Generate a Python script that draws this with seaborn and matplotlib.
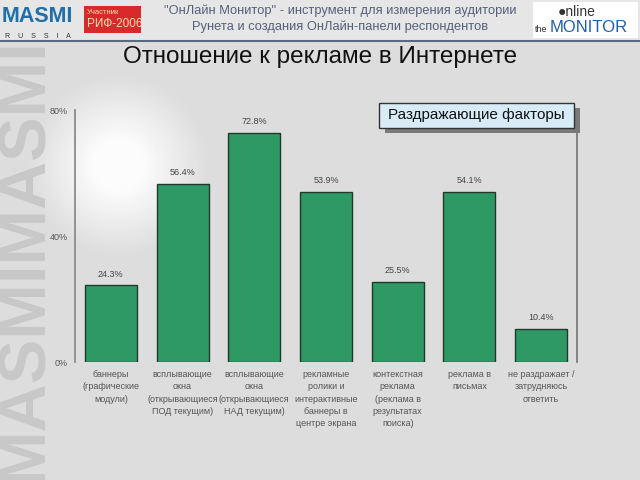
import numpy as np
import pandas as pd
import matplotlib
matplotlib.use("Agg")
import matplotlib.pyplot as plt
import seaborn as sns
from matplotlib.patches import Rectangle, FancyBboxPatch

categories = [
    "баннеры\n(графические\nмодули)",
    "всплывающие\nокна\n(открывающиеся\nПОД текущим)",
    "всплывающие\nокна\n(открывающиеся\nНАД текущим)",
    "рекламные\nролики и\nинтерактивные\nбаннеры в\nцентре экрана",
    "контекстная\nреклама\n(реклама в\nрезультатах\nпоиска)",
    "реклама в\nписьмах",
    "не раздражает /\nзатрудняюсь\nответить",
]
values = [24.3, 56.4, 72.8, 53.9, 25.5, 54.1, 10.4]
value_labels = ["24.3%", "56.4%", "72.8%", "53.9%", "25.5%", "54.1%", "10.4%"]
y_ticks = [0, 40, 80]
y_tick_labels = ["0%", "40%", "80%"]
title = "Отношение к рекламе в Интернете"
header = "\"ОнЛайн Монитор\" - инструмент для измерения аудитории\nРунета и создания ОнЛайн-панели респондентов"
box_text = "Раздражающие факторы"

sns.set_theme(style="white")
plt.rcParams['font.family'] = ['Liberation Sans', 'DejaVu Sans']

fig = plt.figure(figsize=(6.4, 4.8), dpi=100)
fig.patch.set_facecolor("#dcdcdc")

# background layer
bg = fig.add_axes([0, 0, 1, 1], zorder=0)
bg.set_xlim(0, 640); bg.set_ylim(480, 0); bg.axis("off")
yy, xx = np.mgrid[0:480, 0:640]
d = np.sqrt((xx - 118) ** 2 + (yy - 165) ** 2)
glow = np.clip(1 - (d - 25) / 65, 0, 1)
base = np.full((480, 640), 0.865)
img = base + glow * 0.12
img[:40, :] = 0.9
bg.imshow(img, cmap="gray", vmin=0, vmax=1, extent=(0, 640, 480, 0), aspect="auto", zorder=0)
bg.plot([0, 640], [41, 41], color="#5a6a80", lw=1.5, zorder=1)
bg.text(25, 482, "MASMIMASMI", rotation=90, fontsize=48, fontweight="bold",
        color="#c8c8c8", ha="center", va="bottom", zorder=1, family="Liberation Sans",
        clip_on=True)
# logos
bg.text(37, 17, "MASMI", fontsize=15.5, fontweight="bold", color="#1f6fa8",
        ha="center", va="center", zorder=2)
bg.text(38, 36, "R    U    S    S    I    A", fontsize=5, color="#333333", ha="center", va="center", zorder=2)
bg.add_patch(Rectangle((84, 6), 57, 27, facecolor="#d82a2a", edgecolor="none", zorder=2))
bg.text(87, 12, "Участник", fontsize=5.5, color="#ffe0b0", ha="left", va="center", zorder=3)
bg.text(87, 24, "РИФ-2006", fontsize=8.5, color="#ffe0b0", ha="left", va="center", zorder=3)
bg.add_patch(Rectangle((533, 2), 105, 36, facecolor="white", edgecolor="none", zorder=2))
bg.text(558, 12, "●nline", fontsize=10, color="#333333", ha="left", va="center", zorder=3)
bg.text(535, 30, "the", fontsize=6.5, color="#333333", ha="left", va="center", zorder=3)
bg.text(550, 28, "MONITOR", fontsize=12, color="#1f5fb0", ha="left", va="center", zorder=3)
bg.text(340, 19, header, fontsize=9.3, color="#55607a", ha="center", va="center",
        linespacing=1.35, zorder=2)
bg.text(320, 57, title, fontsize=17.5, color="#111111", ha="center", va="center", zorder=2)

# chart
ax = fig.add_axes([75 / 640, 1 - 362 / 480, (577 - 75) / 640, (362 - 110) / 480], zorder=2)
ax.patch.set_alpha(0)
df = pd.DataFrame({"cat": categories, "val": values})
sns.barplot(data=df, x="cat", y="val", ax=ax, color="#2f9966", saturation=1,
            width=0.725, edgecolor="#1d3b29", linewidth=1.0)
ax.set_xlim(-0.5, 6.5)
ax.set_ylim(0, 80)
ax.set_yticks(y_ticks)
ax.set_yticklabels(y_tick_labels, fontsize=6.5, color="#555555")
ax.set_xticks(range(len(categories)))
ax.set_xticklabels(categories, fontsize=6.5, color="#555555", linespacing=1.45, va="top")
ax.tick_params(axis="x", length=0, pad=6)
ax.tick_params(axis="y", length=0, pad=5)
ax.set_xlabel(""); ax.set_ylabel("")
for s in ["top", "bottom"]:
    ax.spines[s].set_visible(False)
ax.spines["left"].set_color("#888888")
ax.spines["right"].set_color("#777777")
for i, (v, lab) in enumerate(zip(values, value_labels)):
    ax.text(i, v + 2.2, lab, ha="center", va="bottom", fontsize=6.5, color="#444444")

# label box
fig.add_artist(FancyBboxPatch((382 / 640 + 0.004, 1 - 130 / 480 - 0.006), 195 / 640, 25 / 480,
                              boxstyle="square,pad=0", facecolor="#7a7a7a", edgecolor="none",
                              transform=fig.transFigure, zorder=3))
fig.add_artist(FancyBboxPatch((379 / 640, 1 - 128 / 480), 195 / 640, 25 / 480,
                              boxstyle="square,pad=0", facecolor="#d8ecf8", edgecolor="#333333",
                              linewidth=1, transform=fig.transFigure, zorder=4))
fig.text(476.5 / 640, 1 - 115.5 / 480, box_text, fontsize=11, color="#111111",
         ha="center", va="center", zorder=5)

fig.savefig("out.png", dpi=100)
